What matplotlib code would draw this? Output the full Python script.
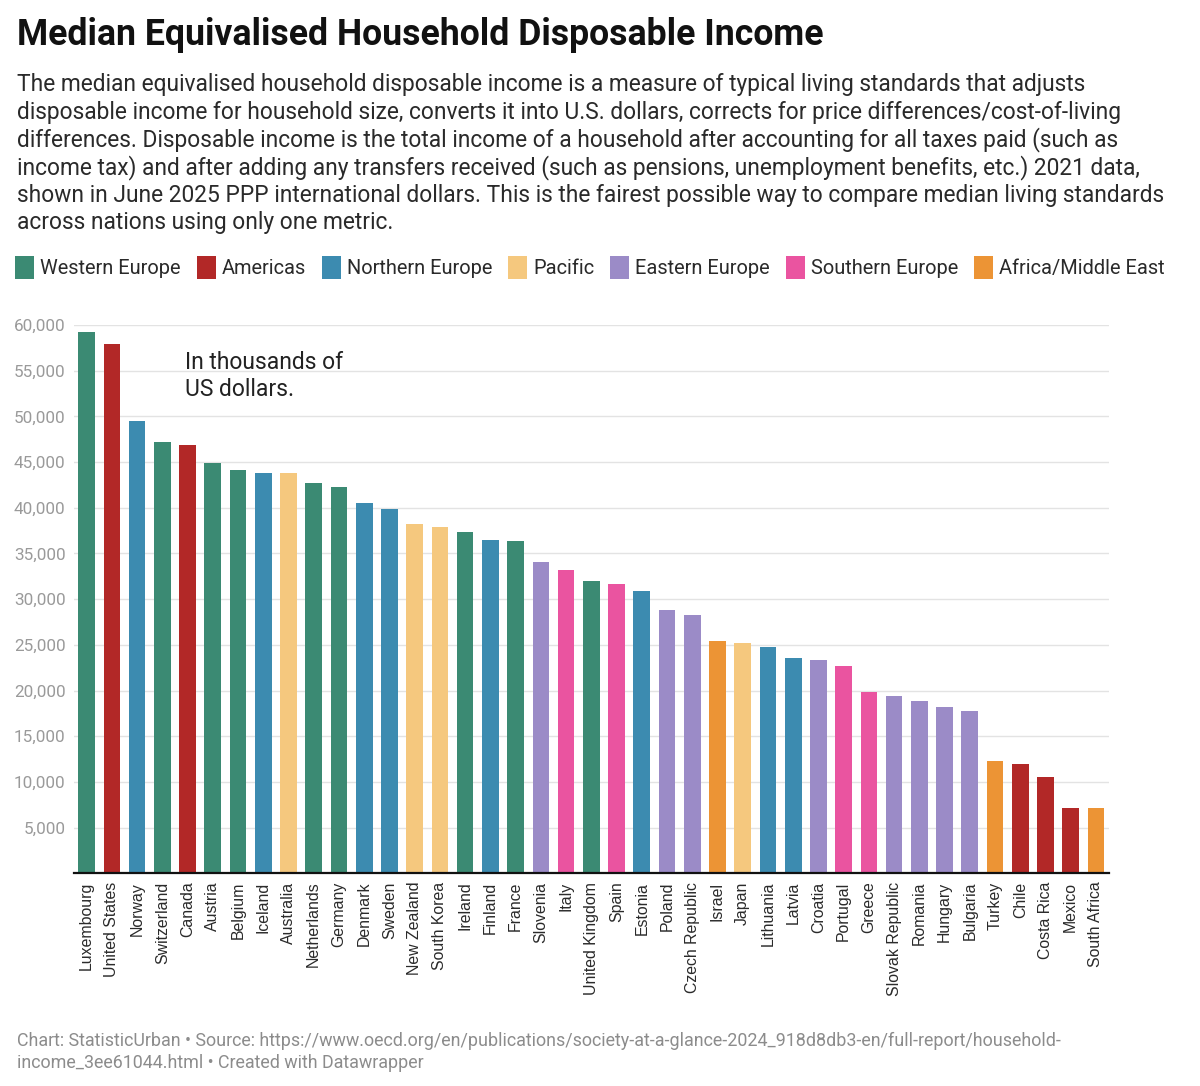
import matplotlib
matplotlib.use("Agg")
import matplotlib.pyplot as plt
import matplotlib.patches as mpatches

# ── Data ──────────────────────────────────────────────────────────────────────
countries = [
    "Luxembourg", "United States", "Norway", "Switzerland", "Canada", "Austria",
    "Belgium", "Iceland", "Australia", "Netherlands", "Germany", "Denmark",
    "Sweden", "New Zealand", "South Korea", "Ireland", "Finland", "France",
    "Slovenia", "Italy", "United Kingdom", "Spain", "Estonia", "Poland",
    "Czech Republic", "Israel", "Japan", "Lithuania", "Latvia", "Croatia",
    "Portugal", "Greece", "Slovak Republic", "Romania", "Hungary", "Bulgaria",
    "Turkey", "Chile", "Costa Rica", "Mexico", "South Africa",
]
income = [
    59200, 57900, 49500, 47200, 46850, 44900,
    44150, 43850, 43850, 42700, 42300, 40500,
    39850, 38200, 37950, 37300, 36500, 36400,
    34100, 33200, 31950, 31700, 30950, 28850,
    28250, 25400, 25250, 24750, 23550, 23300,
    22700, 19800, 19450, 18850, 18200, 17750,
    12250, 11950, 10500, 7150, 7150,
]
regions = [
    "Western Europe", "Americas", "Northern Europe", "Western Europe", "Americas", "Western Europe",
    "Western Europe", "Northern Europe", "Pacific", "Western Europe", "Western Europe", "Northern Europe",
    "Northern Europe", "Pacific", "Pacific", "Western Europe", "Northern Europe", "Western Europe",
    "Eastern Europe", "Southern Europe", "Western Europe", "Southern Europe", "Northern Europe", "Eastern Europe",
    "Eastern Europe", "Africa/Middle East", "Pacific", "Northern Europe", "Northern Europe", "Eastern Europe",
    "Southern Europe", "Southern Europe", "Eastern Europe", "Eastern Europe", "Eastern Europe", "Eastern Europe",
    "Africa/Middle East", "Americas", "Americas", "Americas", "Africa/Middle East",
]
region_order = ["Western Europe", "Americas", "Northern Europe", "Pacific",
                "Eastern Europe", "Southern Europe", "Africa/Middle East"]
region_colors = {
    "Western Europe":     "#3b8a73",
    "Americas":           "#b22827",
    "Northern Europe":    "#3c8bb0",
    "Pacific":            "#f5c87e",
    "Eastern Europe":     "#9b8bc7",
    "Southern Europe":    "#ea54a0",
    "Africa/Middle East": "#ec9435",
}
y_ticks = [5000, 10000, 15000, 20000, 25000, 30000, 35000, 40000, 45000, 50000, 55000, 60000]

TITLE = "Median Equivalised Household Disposable Income"
SUBTITLE = [
    "The median equivalised household disposable income is a measure of typical living standards that adjusts",
    "disposable income for household size, converts it into U.S. dollars, corrects for price differences/cost-of-living",
    "differences. Disposable income is the total income of a household after accounting for all taxes paid (such as",
    "income tax) and after adding any transfers received (such as pensions, unemployment benefits, etc.) 2021 data,",
    "shown in June 2025 PPP international dollars. This is the fairest possible way to compare median living standards",
    "across nations using only one metric.",
]
NOTE = ["In thousands of", "US dollars."]
FOOTER = [
    "Chart: StatisticUrban \u2022 Source: https://www.oecd.org/en/publications/society-at-a-glance-2024_918d8db3-en/full-report/household-",
    "income_3ee61044.html \u2022 Created with Datawrapper",
]

# ── Figure ────────────────────────────────────────────────────────────────────
W, H = 1200, 1086
fig = plt.figure(figsize=(W / 100, H / 100), dpi=100, facecolor="white")


def fx(px):
    return px / W


def fy(py):
    return 1 - py / H


FONT = "Roboto"
fig.text(fx(17), fy(45), TITLE, fontsize=25.7, fontweight="bold", family=FONT,
         color="#111111", va="baseline")
for i, line in enumerate(SUBTITLE):
    fig.text(fx(17), fy(91.5 + i * 27.6), line, fontsize=16.4, family=FONT,
             color="#2a2a2a", va="baseline")

# legend row
renderer = fig.canvas.get_renderer()
x = 15
for reg in region_order:
    fig.patches.append(mpatches.Rectangle((fx(x), fy(279)), fx(19), 23 / H,
                                          transform=fig.transFigure,
                                          facecolor=region_colors[reg], edgecolor="none"))
    t = fig.text(fx(x + 25), fy(274), reg, fontsize=14.4, family=FONT,
                 color="#2a2a2a", va="baseline")
    bb = t.get_window_extent(renderer)
    x = x + 25 + bb.width + 16

# ── Bars ──────────────────────────────────────────────────────────────────────
ax = fig.add_axes([fx(74), fy(873.4), fx(1108.6 - 74), (873.4 - 325) / H])
colors = [region_colors[r] for r in regions]
pos = range(len(countries))
ax.bar(pos, income, width=0.66, color=colors, zorder=3)
ax.set_xlim(-0.5, len(countries) - 0.5)
ax.set_ylim(0, 60000)
ax.set_yticks(y_ticks)
ax.set_yticklabels([f"{v:,}" for v in y_ticks], family=FONT, fontsize=12.3, color="#9a9a9a")
ax.tick_params(axis="y", length=0, pad=6)
ax.grid(axis="y", color="#e3e3e3", linewidth=1, zorder=0)
ax.set_xticks(list(pos))
ax.set_xticklabels(countries, rotation=90, family="Liberation Sans", fontsize=11.4,
                   color="#2a2a2a", va="top", ha="center")
ax.tick_params(axis="x", length=0, pad=6)
for s in ["top", "right", "left"]:
    ax.spines[s].set_visible(False)
ax.spines["bottom"].set_color("#111111")
ax.spines["bottom"].set_linewidth(1.6)
ax.spines["bottom"].set_zorder(4)

for i, line in enumerate(NOTE):
    fig.text(fx(185), fy(369 + i * 27), line, fontsize=16.5, family=FONT,
             color="#222222", va="baseline")

for i, line in enumerate(FOOTER):
    fig.text(fx(17), fy(1046.5 + i * 21.5), line, fontsize=12.9, family=FONT,
             color="#8c8c8c", va="baseline")

fig.savefig("out.png", dpi=100, facecolor="white")
